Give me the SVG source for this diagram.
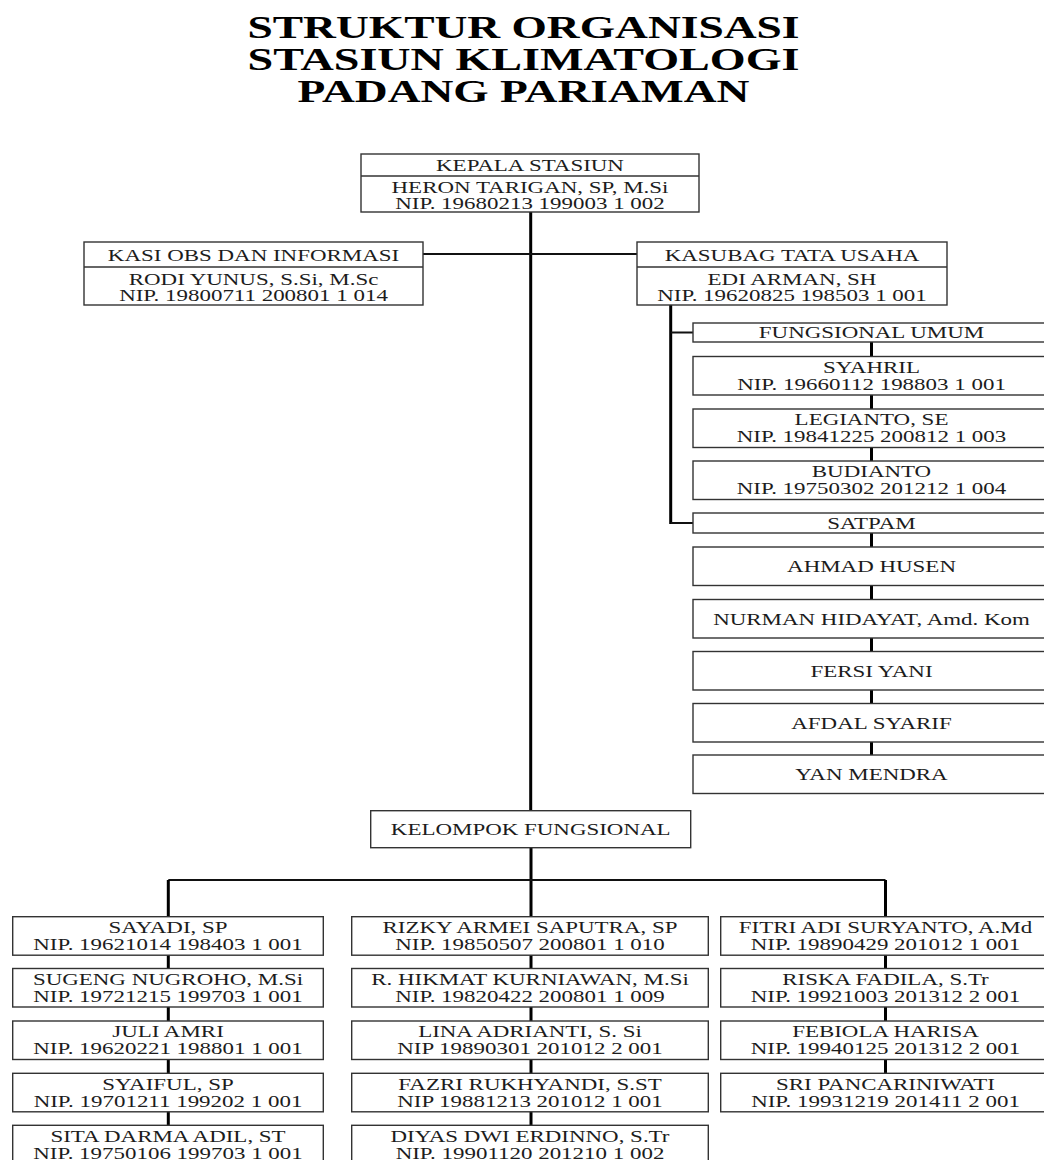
<svg xmlns="http://www.w3.org/2000/svg" width="1044" height="1160" viewBox="0 0 1044 1160">
<style>
.bg{fill:#fff}
.box{fill:#fff;stroke:#333;stroke-width:1.4}
.div{stroke:#333;stroke-width:1.4}
.t{font-family:"Liberation Serif","Times New Roman",serif;font-size:17px;text-anchor:middle;fill:#1c1c1c}
.title{font-family:"Liberation Serif","Times New Roman",serif;font-size:31px;font-weight:bold;text-anchor:middle;fill:#000}
.thick{stroke:#000;stroke-width:3;fill:none}
.thin{stroke:#111;stroke-width:2;fill:none}
</style>
<rect class="bg" x="0" y="0" width="1044" height="1160"/>
<g id="title">
<text class="title" x="523.5" y="38" textLength="552" lengthAdjust="spacingAndGlyphs">STRUKTUR ORGANISASI</text>
<text class="title" x="523.5" y="70" textLength="552" lengthAdjust="spacingAndGlyphs">STASIUN KLIMATOLOGI</text>
<text class="title" x="523.5" y="102" textLength="452" lengthAdjust="spacingAndGlyphs">PADANG PARIAMAN</text>
</g>
<g id="connectors">
<path class="thick" d="M530.7 212 V810.7"/>
<path class="thin" d="M423 254 H637"/>
<path class="thick" d="M670.7 305 V524"/>
<path class="thin" d="M670.7 332.5 H693 M670.7 523 H693"/>
<path class="thick" d="M871.5 342 V461 M871.5 533 V755"/>
<path class="thick" d="M531 847.7 V1125.3"/>
<path class="thin" d="M168.3 880 H885.5"/>
<path class="thick" d="M168.3 880 V1125.3"/>
<path class="thick" d="M885.5 880 V1073.3"/>
</g>
<g id="kepala">
<rect class="box" x="361" y="154" width="338" height="58"/>
<line class="div" x1="361" y1="176" x2="699" y2="176"/>
<text class="t" transform="matrix(1.35 0 0 1 530 0)" x="0" y="171.5">KEPALA STASIUN</text>
<text class="t" transform="matrix(1.35 0 0 1 530 0)" x="0" y="193">HERON TARIGAN, SP, M.Si</text>
<text class="t" transform="matrix(1.35 0 0 1 530 0)" x="0" y="209.5">NIP. 19680213 199003 1 002</text>
</g>
<g id="kasi">
<rect class="box" x="84" y="242" width="339" height="63"/>
<line class="div" x1="84" y1="267" x2="423" y2="267"/>
<text class="t" transform="matrix(1.35 0 0 1 253.5 0)" x="0" y="261.5">KASI OBS DAN INFORMASI</text>
<text class="t" transform="matrix(1.35 0 0 1 253.5 0)" x="0" y="285">RODI YUNUS, S.Si, M.Sc</text>
<text class="t" transform="matrix(1.35 0 0 1 253.5 0)" x="0" y="301.5">NIP. 19800711 200801 1 014</text>
</g>
<g id="kasubag">
<rect class="box" x="637" y="242" width="310" height="63"/>
<line class="div" x1="637" y1="267" x2="947" y2="267"/>
<text class="t" transform="matrix(1.35 0 0 1 792 0)" x="0" y="261.5">KASUBAG TATA USAHA</text>
<text class="t" transform="matrix(1.35 0 0 1 792 0)" x="0" y="285">EDI ARMAN, SH</text>
<text class="t" transform="matrix(1.35 0 0 1 792 0)" x="0" y="301.5">NIP. 19620825 198503 1 001</text>
</g>
<g id="fungsional-umum">
<rect class="box" x="693" y="323" width="357" height="19"/>
<text class="t" transform="matrix(1.35 0 0 1 871.5 0)" x="0" y="338">FUNGSIONAL UMUM</text>
</g>
<g id="syahril">
<rect class="box" x="693" y="356.5" width="357" height="38.5"/>
<text class="t" transform="matrix(1.35 0 0 1 871.5 0)" x="0" y="372.8">SYAHRIL</text>
<text class="t" transform="matrix(1.35 0 0 1 871.5 0)" x="0" y="389.8">NIP. 19660112 198803 1 001</text>
</g>
<g id="legianto">
<rect class="box" x="693" y="409" width="357" height="38.5"/>
<text class="t" transform="matrix(1.35 0 0 1 871.5 0)" x="0" y="425.3">LEGIANTO, SE</text>
<text class="t" transform="matrix(1.35 0 0 1 871.5 0)" x="0" y="442.3">NIP. 19841225 200812 1 003</text>
</g>
<g id="budianto">
<rect class="box" x="693" y="461" width="357" height="38.5"/>
<text class="t" transform="matrix(1.35 0 0 1 871.5 0)" x="0" y="477.3">BUDIANTO</text>
<text class="t" transform="matrix(1.35 0 0 1 871.5 0)" x="0" y="494.3">NIP. 19750302 201212 1 004</text>
</g>
<g id="satpam">
<rect class="box" x="693" y="513" width="357" height="20"/>
<text class="t" transform="matrix(1.35 0 0 1 871.5 0)" x="0" y="529.5">SATPAM</text>
</g>
<g id="ahmad">
<rect class="box" x="693" y="547" width="357" height="38.5"/>
<text class="t" transform="matrix(1.35 0 0 1 871.5 0)" x="0" y="572.5">AHMAD HUSEN</text>
</g>
<g id="nurman">
<rect class="box" x="693" y="599.5" width="357" height="38.5"/>
<text class="t" transform="matrix(1.35 0 0 1 871.5 0)" x="0" y="625">NURMAN HIDAYAT, Amd. Kom</text>
</g>
<g id="fersi">
<rect class="box" x="693" y="651.5" width="357" height="38.5"/>
<text class="t" transform="matrix(1.35 0 0 1 871.5 0)" x="0" y="677">FERSI YANI</text>
</g>
<g id="afdal">
<rect class="box" x="693" y="703.5" width="357" height="38.5"/>
<text class="t" transform="matrix(1.35 0 0 1 871.5 0)" x="0" y="729">AFDAL SYARIF</text>
</g>
<g id="yan">
<rect class="box" x="693" y="755" width="357" height="38.5"/>
<text class="t" transform="matrix(1.35 0 0 1 871.5 0)" x="0" y="780.5">YAN MENDRA</text>
</g>
<g id="kelompok">
<rect class="box" x="370.7" y="810.7" width="320" height="37"/>
<text class="t" transform="matrix(1.35 0 0 1 530.7 0)" x="0" y="835">KELOMPOK FUNGSIONAL</text>
</g>
<g id="sayadi">
<rect class="box" x="12.7" y="916.7" width="310.6" height="38.5"/>
<text class="t" transform="matrix(1.35 0 0 1 168 0)" x="0" y="933">SAYADI, SP</text>
<text class="t" transform="matrix(1.35 0 0 1 168 0)" x="0" y="950">NIP. 19621014 198403 1 001</text>
</g>
<g id="sugeng">
<rect class="box" x="12.7" y="968.5" width="310.6" height="38.5"/>
<text class="t" transform="matrix(1.35 0 0 1 168 0)" x="0" y="984.8">SUGENG NUGROHO, M.Si</text>
<text class="t" transform="matrix(1.35 0 0 1 168 0)" x="0" y="1001.8">NIP. 19721215 199703 1 001</text>
</g>
<g id="juli">
<rect class="box" x="12.7" y="1021" width="310.6" height="38.5"/>
<text class="t" transform="matrix(1.35 0 0 1 168 0)" x="0" y="1037.3">JULI AMRI</text>
<text class="t" transform="matrix(1.35 0 0 1 168 0)" x="0" y="1054.3">NIP. 19620221 198801 1 001</text>
</g>
<g id="syaiful">
<rect class="box" x="12.7" y="1073.3" width="310.6" height="38.5"/>
<text class="t" transform="matrix(1.35 0 0 1 168 0)" x="0" y="1089.6">SYAIFUL, SP</text>
<text class="t" transform="matrix(1.35 0 0 1 168 0)" x="0" y="1106.6">NIP. 19701211 199202 1 001</text>
</g>
<g id="sita">
<rect class="box" x="12.7" y="1125.3" width="310.6" height="38.5"/>
<text class="t" transform="matrix(1.35 0 0 1 168 0)" x="0" y="1141.6">SITA DARMA ADIL, ST</text>
<text class="t" transform="matrix(1.35 0 0 1 168 0)" x="0" y="1158.6">NIP. 19750106 199703 1 001</text>
</g>
<g id="rizky">
<rect class="box" x="351.7" y="916.7" width="356.6" height="38.5"/>
<text class="t" transform="matrix(1.35 0 0 1 530 0)" x="0" y="933">RIZKY ARMEI SAPUTRA, SP</text>
<text class="t" transform="matrix(1.35 0 0 1 530 0)" x="0" y="950">NIP. 19850507 200801 1 010</text>
</g>
<g id="hikmat">
<rect class="box" x="351.7" y="968.5" width="356.6" height="38.5"/>
<text class="t" transform="matrix(1.35 0 0 1 530 0)" x="0" y="984.8">R. HIKMAT KURNIAWAN, M.Si</text>
<text class="t" transform="matrix(1.35 0 0 1 530 0)" x="0" y="1001.8">NIP. 19820422 200801 1 009</text>
</g>
<g id="lina">
<rect class="box" x="351.7" y="1021" width="356.6" height="38.5"/>
<text class="t" transform="matrix(1.35 0 0 1 530 0)" x="0" y="1037.3">LINA ADRIANTI, S. Si</text>
<text class="t" transform="matrix(1.35 0 0 1 530 0)" x="0" y="1054.3">NIP 19890301 201012 2 001</text>
</g>
<g id="fazri">
<rect class="box" x="351.7" y="1073.3" width="356.6" height="38.5"/>
<text class="t" transform="matrix(1.35 0 0 1 530 0)" x="0" y="1089.6">FAZRI RUKHYANDI, S.ST</text>
<text class="t" transform="matrix(1.35 0 0 1 530 0)" x="0" y="1106.6">NIP 19881213 201012 1 001</text>
</g>
<g id="diyas">
<rect class="box" x="351.7" y="1125.3" width="356.6" height="38.5"/>
<text class="t" transform="matrix(1.35 0 0 1 530 0)" x="0" y="1141.6">DIYAS DWI ERDINNO, S.Tr</text>
<text class="t" transform="matrix(1.35 0 0 1 530 0)" x="0" y="1158.6">NIP. 19901120 201210 1 002</text>
</g>
<g id="fitri">
<rect class="box" x="720.7" y="916.7" width="330" height="38.5"/>
<text class="t" transform="matrix(1.35 0 0 1 885.5 0)" x="0" y="933">FITRI ADI SURYANTO, A.Md</text>
<text class="t" transform="matrix(1.35 0 0 1 885.5 0)" x="0" y="950">NIP. 19890429 201012 1 001</text>
</g>
<g id="riska">
<rect class="box" x="720.7" y="968.5" width="330" height="38.5"/>
<text class="t" transform="matrix(1.35 0 0 1 885.5 0)" x="0" y="984.8">RISKA FADILA, S.Tr</text>
<text class="t" transform="matrix(1.35 0 0 1 885.5 0)" x="0" y="1001.8">NIP. 19921003 201312 2 001</text>
</g>
<g id="febiola">
<rect class="box" x="720.7" y="1021" width="330" height="38.5"/>
<text class="t" transform="matrix(1.35 0 0 1 885.5 0)" x="0" y="1037.3">FEBIOLA HARISA</text>
<text class="t" transform="matrix(1.35 0 0 1 885.5 0)" x="0" y="1054.3">NIP. 19940125 201312 2 001</text>
</g>
<g id="sri">
<rect class="box" x="720.7" y="1073.3" width="330" height="38.5"/>
<text class="t" transform="matrix(1.35 0 0 1 885.5 0)" x="0" y="1089.6">SRI PANCARINIWATI</text>
<text class="t" transform="matrix(1.35 0 0 1 885.5 0)" x="0" y="1106.6">NIP. 19931219 201411 2 001</text>
</g>
</svg>
